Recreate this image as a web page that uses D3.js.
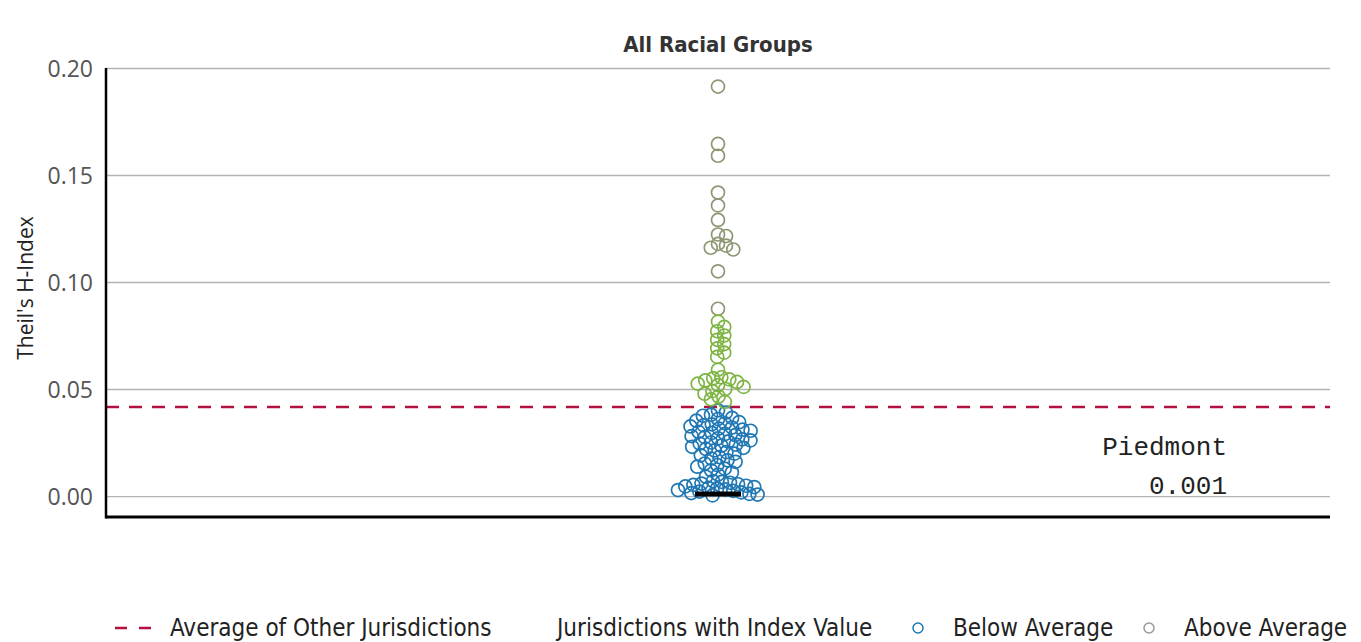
<!DOCTYPE html>
<html><head><meta charset="utf-8">
<script src="https://cdn.jsdelivr.net/npm/d3@7"></script>
<style>
body{margin:0;background:#fff;}
svg{display:block;}
</style></head>
<body>
<svg id="chart" width="1361" height="642"></svg>
<script>
// ---------- data ----------
const categories = ["All Racial Groups"];
const yTicks = [0.00, 0.05, 0.10, 0.15, 0.20];
const averageOther = 0.0416;
const highlightName = "Piedmont";
const highlightValue = 0.001;
const aboveValues = [
  0.1913, 0.1645, 0.1590, 0.1418, 0.1358, 0.1290, 0.1222, 0.1215, 0.1178, 0.1170, 0.1160, 0.1152, 0.1050,
  0.0875, 0.0815, 0.0790, 0.0770, 0.0750, 0.0730, 0.0710, 0.0690, 0.0670, 0.0650, 0.0590,
  0.0555, 0.0550, 0.0545, 0.0540, 0.0533, 0.0525, 0.0518, 0.0510, 0.0500, 0.0490,
  0.0478, 0.0465, 0.0452, 0.0440
];
const belowValues = [
  0.0400, 0.0390, 0.0380, 0.0375, 0.0365, 0.0360, 0.0352, 0.0345, 0.0340, 0.0335, 0.0330, 0.0325,
  0.0320, 0.0315, 0.0310, 0.0305, 0.0300, 0.0295, 0.0290, 0.0285, 0.0280, 0.0275, 0.0270, 0.0265,
  0.0260, 0.0255, 0.0250, 0.0245, 0.0240, 0.0235, 0.0230, 0.0225, 0.0220, 0.0213, 0.0205, 0.0198,
  0.0190, 0.0182, 0.0175, 0.0167, 0.0160, 0.0152, 0.0145, 0.0137, 0.0128, 0.0120, 0.0110, 0.0100, 0.0090,
  0.0070, 0.0066, 0.0062, 0.0058, 0.0055, 0.0052, 0.0048, 0.0045, 0.0042, 0.0038, 0.0035, 0.0031,
  0.0028, 0.0024, 0.0021, 0.0017, 0.0014, 0.0010, 0.0007, 0.0003
];
const legendLabels = ["Average of Other Jurisdictions", "Jurisdictions with Index Value", "Below Average", "Above Average"];

// ---------- layout ----------
const svg = d3.select("#chart");
const pLeft = 106, pRight = 1330, pTop = 68, pBottom = 517;
const x = d3.scalePoint().domain(categories).range([pLeft, pRight]);
const y = d3.scaleLinear().domain([-0.0098, 0.20]).range([pBottom, pTop]);
const r = 6.5, spacing = 8.2;
const blue = "#1f77b4", green = "#7db443", olive = "#8c9873";
const sansFont = "'DejaVu Sans Condensed','DejaVu Sans', sans-serif";

// gridlines
svg.append("g").attr("transform", `translate(${pLeft},0)`)
  .call(d3.axisLeft(y).tickValues(yTicks).tickSize(-(pRight - pLeft)).tickFormat(""))
  .call(g => g.select(".domain").remove())
  .call(g => g.selectAll("line").attr("stroke", "#b3b3b3").attr("stroke-width", 1.3));

// tick labels
svg.append("g").attr("transform", `translate(${pLeft - 10},0)`)
  .call(d3.axisLeft(y).tickValues(yTicks).tickSize(0).tickFormat(d3.format(".2f")))
  .call(g => g.select(".domain").remove())
  .call(g => g.selectAll("text").attr("font-family", "'Open Sans', sans-serif")
     .attr("font-size", 23).attr("fill", "#555").attr("dy", "0.35em"));

// y title
svg.append("text").attr("transform", `translate(33,${(y(0.2)+y(0))/2 + 6}) rotate(-90)`)
  .attr("text-anchor", "middle").attr("font-family", "'Open Sans', sans-serif")
  .attr("font-size", 21).attr("fill", "#222").text("Theil's H-Index");

// title
svg.append("text").attr("x", x(categories[0])).attr("y", 52).attr("text-anchor", "middle")
  .attr("font-family", sansFont).attr("font-weight", "bold")
  .attr("font-size", 22).attr("fill", "#333").text(categories[0]);

// average line
svg.append("line").attr("x1", pLeft).attr("x2", pRight).attr("y1", y(averageOther)).attr("y2", y(averageOther))
  .attr("stroke", "#b3123f").attr("stroke-width", 2.6).attr("stroke-dasharray", "13,10");

// dodge layout
function dodge(values, placed) {
  const out = [];
  const sorted = values.slice().sort((a, b) => d3.descending(a, b));
  for (const v of sorted) {
    const cy = y(v);
    const near = placed.filter(p => Math.abs(p.cy - cy) < spacing);
    const cands = [0];
    for (const p of near) {
      const dx = Math.sqrt(spacing * spacing - (p.cy - cy) ** 2);
      cands.push(p.dx + dx, p.dx - dx);
    }
    cands.sort((a, b) => Math.abs(a) - Math.abs(b));
    let chosen = 0;
    for (const c of cands) {
      if (near.every(p => (p.dx - c) ** 2 + (p.cy - cy) ** 2 >= spacing * spacing - 0.01)) { chosen = c; break; }
    }
    const pt = { v, cy, dx: chosen };
    placed.push(pt); out.push(pt);
  }
  return out;
}
const placed = [];
const abovePts = dodge(aboveValues, placed);
const belowPts = dodge(belowValues, placed);
const cx0 = x(categories[0]);

svg.append("g").selectAll("circle").data(belowPts).join("circle")
  .attr("cx", d => cx0 + d.dx).attr("cy", d => d.cy).attr("r", r)
  .attr("fill", "none").attr("stroke", blue).attr("stroke-width", 1.7);
svg.append("g").selectAll("circle").data(abovePts).join("circle")
  .attr("cx", d => cx0 + d.dx).attr("cy", d => d.cy).attr("r", r)
  .attr("fill", "none").attr("stroke", d => d.v > 0.085 ? olive : green).attr("stroke-width", 1.7);

// highlight bar
svg.append("line").attr("x1", cx0 - 23).attr("x2", cx0 + 23)
  .attr("y1", y(highlightValue)).attr("y2", y(highlightValue))
  .attr("stroke", "#000").attr("stroke-width", 5);

// axis lines
svg.append("line").attr("x1", pLeft).attr("x2", pLeft).attr("y1", pTop).attr("y2", pBottom + 1.5)
  .attr("stroke", "#000").attr("stroke-width", 2.5);
svg.append("line").attr("x1", pLeft).attr("x2", pRight).attr("y1", pBottom).attr("y2", pBottom)
  .attr("stroke", "#000").attr("stroke-width", 3);

// annotation
const monoFont = "'Courier New','Liberation Mono', monospace";
svg.append("text").attr("x", 1227).attr("y", 455).attr("text-anchor", "end")
  .attr("font-family", monoFont).attr("font-size", 26).attr("fill", "#222")
  .text(highlightName);
svg.append("text").attr("x", 1227).attr("y", 494).attr("text-anchor", "end")
  .attr("font-family", monoFont).attr("font-size", 26).attr("fill", "#222")
  .text(d3.format(".3f")(highlightValue));

// legend
const lg = svg.append("g").attr("font-family", sansFont)
  .attr("font-size", 24).attr("fill", "#222");
const ly = 628;
lg.append("line").attr("x1", 115).attr("x2", 152).attr("y1", ly).attr("y2", ly)
  .attr("stroke", "#b3123f").attr("stroke-width", 2.6).attr("stroke-dasharray", "12,12");
lg.append("text").attr("x", 170).attr("y", ly).attr("dy", "0.35em").text(legendLabels[0]);
lg.append("text").attr("x", 557).attr("y", ly).attr("dy", "0.35em").text(legendLabels[1]);
lg.append("circle").attr("cx", 918).attr("cy", ly).attr("r", 5).attr("fill", "none")
  .attr("stroke", blue).attr("stroke-width", 1.5);
lg.append("text").attr("x", 953).attr("y", ly).attr("dy", "0.35em").text(legendLabels[2]);
lg.append("circle").attr("cx", 1149).attr("cy", ly).attr("r", 5).attr("fill", "none")
  .attr("stroke", "#999").attr("stroke-width", 1.5);
lg.append("text").attr("x", 1184).attr("y", ly).attr("dy", "0.35em").text(legendLabels[3]);
</script>
</body></html>
